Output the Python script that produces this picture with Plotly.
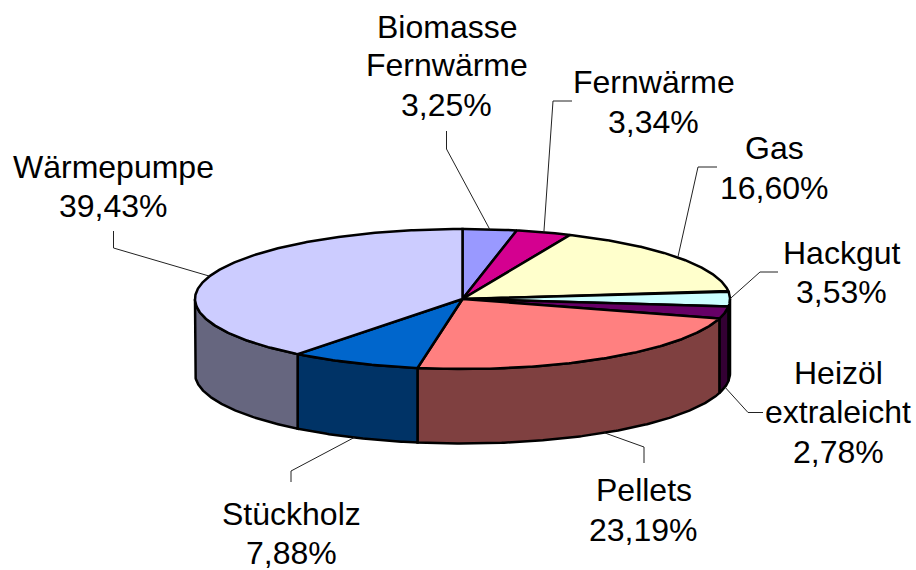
import math
import plotly.graph_objects as go

# Data
names = ["Biomasse Fernwärme", "Fernwärme", "Gas", "Hackgut", "Heizöl extraleicht", "Pellets", "Stückholz", "Wärmepumpe"]
values = [3.25, 3.34, 16.60, 3.53, 2.78, 23.19, 7.88, 39.43]
colors = ["#9999FF", "#D40090", "#FFFFCC", "#CCFFFF", "#660066", "#FF8080", "#0066CC", "#CCCCFF"]
label_lines = [["Biomasse", "Fernwärme"], ["Fernwärme"], ["Gas"], ["Hackgut"], ["Heizöl", "extraleicht"], ["Pellets"], ["Stückholz"], ["Wärmepumpe"]]

# Layout (pixels)
CX, CY, RX, RY, DEPTH = 462.5, 299.0, 267.5, 70.0, 74.5
label_x = [[447, 446.5, 446], [654, 653], [774, 774], [842, 841], [838, 838, 838], [644, 643], [291, 291], [113.5, 113]]
label_y = [[27, 65, 105], [82, 122], [148, 188], [253, 292], [373, 412, 452], [490, 530], [514, 553], [167, 206]]
# leader: elbow and end points, from the text to the slice
leader_pts = [[(446.5, 131), (446.5, 149)], [(572, 101), (553, 101)], [(717, 167), (698, 167)], [(778, 272), (760, 272)],
              [(763, 412.5), (748, 412.5)], [(644, 463), (644, 447)], [(291, 482), (291, 471)], [(113.5, 231), (113.5, 248)]]


def pt(a, dy=0.0):
    r = math.radians(a)
    return CX + RX * math.sin(r), CY - RY * math.cos(r) + dy


def arc(a0, a1, dy=0.0):
    n = max(2, int(abs(a1 - a0) * 2) + 1)
    return [pt(a0 + (a1 - a0) * i / (n - 1), dy) for i in range(n)]


def darker(h):
    return "#%02X%02X%02X" % tuple(int(h[i:i + 2], 16) // 2 for i in (1, 3, 5))


fig = go.Figure()


def poly(pts, fill, lw=2.5, name=""):
    fig.add_trace(go.Scatter(x=[p[0] for p in pts], y=[p[1] for p in pts], mode="lines", fill="toself",
                             fillcolor=fill, line=dict(color="black", width=lw), hoverinfo="skip", name=name,
                             showlegend=False))


edges = [0.0]
for v in values:
    edges.append(edges[-1] + v * 3.6)

# walls (front half of the disc)
for i in range(len(values)):
    a0, a1 = max(edges[i], 90.0), min(edges[i + 1], 270.0)
    if a1 > a0:
        poly(arc(a0, a1) + arc(a1, a0, DEPTH) + [pt(a0)], darker(colors[i]), name=names[i] + " wall")

# tops
for i in range(len(values)):
    poly([(CX, CY)] + arc(edges[i], edges[i + 1]) + [(CX, CY)], colors[i], name=names[i])

# leaders and labels
annotations = []
for i, v in enumerate(values):
    mid = (edges[i] + edges[i + 1]) / 2
    on_wall = 95 < mid < 265
    anchor = pt(mid, DEPTH if on_wall else 0.0)
    pts = leader_pts[i] + [anchor]
    fig.add_trace(go.Scatter(x=[p[0] for p in pts], y=[p[1] for p in pts], mode="lines",
                             line=dict(color="#222222", width=1), hoverinfo="skip", showlegend=False))
    pct = f"{v:.2f}%".replace(".", ",")
    for line, x, y in zip(label_lines[i] + [pct], label_x[i], label_y[i]):
        annotations.append(dict(x=x, y=y, xref="x", yref="y", text=line, showarrow=False,
                                xanchor="center", yanchor="middle",
                                font=dict(family="Liberation Sans", size=32, color="black")))

fig.update_layout(width=916, height=570, autosize=False, margin=dict(l=0, r=0, t=0, b=0),
                  paper_bgcolor="white", plot_bgcolor="white", showlegend=False, annotations=annotations,
                  xaxis=dict(range=[0, 916], visible=False, fixedrange=True),
                  yaxis=dict(range=[570, 0], visible=False, fixedrange=True))
fig.write_html("out.html", config=dict(displayModeBar=False),
               post_script="document.body.style.margin='0';document.documentElement.style.overflow='hidden';")
